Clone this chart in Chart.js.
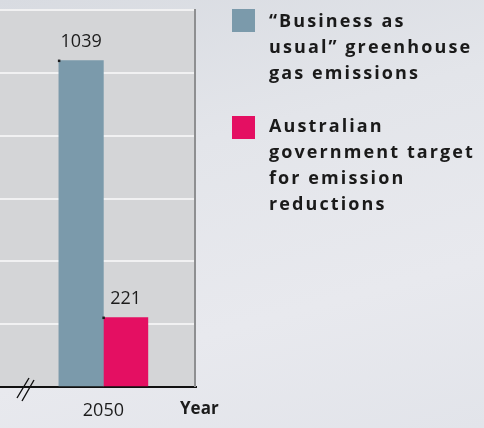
<!DOCTYPE html>
<html>
<head>
<meta charset="utf-8">
<script src="https://cdn.jsdelivr.net/npm/chart.js@4.4.1/dist/chart.umd.min.js"></script>
<style>
  html, body { margin: 0; padding: 0; }
  body {
    width: 484px; height: 428px; overflow: hidden; position: relative;
    background: linear-gradient(165deg, #d8dbe1 0%, #e3e5ea 35%, #e8e9ee 70%, #e2e4ea 100%);
    font-family: "Open Sans", sans-serif;
  }
  #chart-wrap { position: absolute; left: -51px; top: 0; width: 535px; height: 428px; }
  .legend-swatch { position: absolute; left: 232px; width: 23px; height: 23px; }
  .legend-text {
    position: absolute; left: 269px; white-space: nowrap;
    font-weight: 700; font-size: 18px; line-height: 26px; letter-spacing: 2.1px; color: #1a1a1a;
  }
</style>
</head>
<body>
<div id="chart-wrap"><canvas id="emissions-chart"></canvas></div>
<div id="legend"></div>
<script>
// ---- data ----
const years = [2050];
const seriesNames = ["“Business as usual” greenhouse gas emissions", "Australian government target for emission reductions"];
const legendLines = [
  ["“Business as", "usual” greenhouse", "gas emissions"],
  ["Australian", "government target", "for emission", "reductions"],
];
const businessAsUsual = [1039];
const governmentTarget = [221];
const yTicks = [0, 200, 400, 600, 800, 1000, 1200];
const xAxisTitle = "Year";

const COLORS = ["#7b9aab", "#e40f62"];
const TEXT = "#1c1c1c";

// ---- legend (html) ----
function renderLegend() {
  const tops = [{ swatch: 9, text: 7 }, { swatch: 116, text: 112 }];
  document.getElementById("legend").innerHTML = legendLines
    .map(
      (lines, i) => `
      <div class="legend-swatch" style="top:${tops[i].swatch}px;background:${COLORS[i]}"></div>
      <div class="legend-text" style="top:${tops[i].text}px" title="${seriesNames[i]}">${lines.join("<br>")}</div>
    `
    )
    .join("");
}

// plot background, value labels, axis break, right border
const decor = {
  id: "decor",
  beforeDraw(chart) {
    const { ctx, chartArea: a } = chart;
    ctx.save();
    ctx.fillStyle = "#d4d5d7";
    ctx.fillRect(a.left, a.top, a.right - a.left, a.bottom - a.top);
    ctx.restore();
  },
  afterDatasetsDraw(chart) {
    const { ctx } = chart;
    ctx.save();
    ctx.font = '18px "Open Sans"';
    ctx.fillStyle = TEXT;
    ctx.textAlign = "center";
    ctx.textBaseline = "alphabetic";
    chart.data.datasets.forEach((ds, di) => {
      chart.getDatasetMeta(di).data.forEach((bar, i) => {
        ctx.fillText(String(ds.data[i].y), bar.x, bar.y - 14);
        ctx.fillRect(bar.x - bar.width / 2 - 1, bar.y - 1, 2.5, 2.5);
      });
    });
    ctx.restore();
  },
  afterDraw(chart) {
    const { ctx, chartArea: a } = chart;
    ctx.save();
    // right frame line
    ctx.strokeStyle = "#8e8f91";
    ctx.lineWidth = 2;
    ctx.beginPath();
    ctx.moveTo(a.right - 1, a.top - 1);
    ctx.lineTo(a.right - 1, a.bottom);
    ctx.stroke();
    // axis break marks
    ctx.strokeStyle = "#111";
    ctx.lineWidth = 1.4;
    ctx.beginPath();
    ctx.moveTo(a.left + 68, a.bottom + 11);
    ctx.lineTo(a.left + 80, a.bottom - 9);
    ctx.moveTo(a.left + 73, a.bottom + 14);
    ctx.lineTo(a.left + 85, a.bottom - 7);
    ctx.stroke();
    // axis title
    ctx.font = 'bold 17px "Open Sans"';
    ctx.fillStyle = TEXT;
    ctx.textAlign = "left";
    ctx.textBaseline = "alphabetic";
    ctx.fillText(xAxisTitle, a.right - 16, a.bottom + 27);
    ctx.restore();
  },
};

function renderChart() {
  const toPoints = (vals) => years.map((yr, i) => ({ x: yr, y: vals[i] }));
  new Chart(document.getElementById("emissions-chart"), {
    type: "bar",
    data: {
      datasets: [
        { label: seriesNames[0], data: toPoints(businessAsUsual), backgroundColor: COLORS[0] },
        { label: seriesNames[1], data: toPoints(governmentTarget), backgroundColor: COLORS[1] },
      ],
    },
    options: {
      animation: false,
      responsive: true,
      maintainAspectRatio: false,
      devicePixelRatio: 1,
      layout: { padding: { top: 10, right: 288, left: 0, bottom: 0 } },
      datasets: { bar: { barThickness: 44.5, borderWidth: 0 } },
      plugins: { legend: { display: false }, tooltip: { enabled: false } },
      scales: {
        x: {
          type: "linear",
          offset: false,
          min: 2040,
          max: 2056,
          grid: { display: false },
          border: { color: "#111", width: 2 },
          afterBuildTicks: (s) => { s.ticks = years.map((v) => ({ value: v })); },
          afterFit: (s) => { s.height = 41; },
          ticks: { color: TEXT, font: { family: "Open Sans", size: 18 }, padding: 5, callback: (v) => String(v) },
        },
        y: {
          min: yTicks[0],
          max: yTicks[yTicks.length - 1],
          afterBuildTicks: (s) => { s.ticks = yTicks.map((v) => ({ value: v })); },
          afterFit: (s) => { s.width = 0; },
          ticks: { display: false },
          grid: { color: "#f1f1f2", lineWidth: 2, drawTicks: false },
          border: { display: false },
        },
      },
    },
    plugins: [decor],
  });
}

renderLegend();
renderChart();
</script>
</body>
</html>
